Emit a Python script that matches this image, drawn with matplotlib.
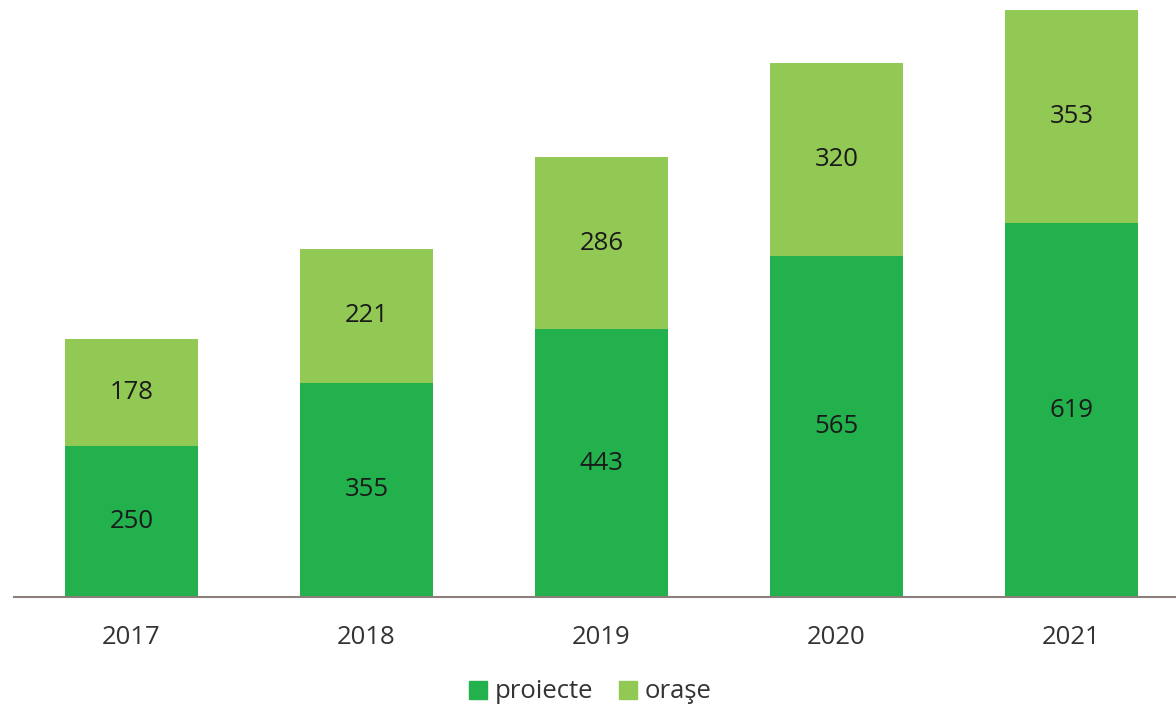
import numpy as np
import matplotlib.pyplot as plt
from matplotlib.patches import Patch

ani = ["2017", "2018", "2019", "2020", "2021"]
proiecte = [250, 355, 443, 565, 619]
orase = [178, 221, 286, 320, 353]

c_proiecte = "#22b14c"
c_orase = "#92c854"

plt.rcParams["font.family"] = ["Open Sans", "DejaVu Sans"]

fig = plt.figure(figsize=(11.76, 7.12), dpi=100)
ax = fig.add_axes([14 / 1176, 115 / 712, 1162 / 1176, 587 / 712])

x = np.arange(len(ani))
w = 0.566
ax.bar(x, proiecte, w, color=c_proiecte)
ax.bar(x, orase, w, bottom=proiecte, color=c_orase)

for i in range(len(ani)):
    ax.text(x[i], proiecte[i] / 2, str(proiecte[i]), ha="center", va="center",
            fontsize=18.5, color="#1a1a1a")
    ax.text(x[i], proiecte[i] + orase[i] / 2, str(orase[i]), ha="center", va="center",
            fontsize=18.5, color="#1a1a1a")

ax.set_xlim(-0.5, 4.445)
ax.set_ylim(0, 972)
ax.set_xticks(x)
ax.set_xticklabels(ani, fontsize=18.5, color="#333333")
ax.tick_params(axis="x", length=0, pad=20)
ax.set_yticks([])
for s in ["top", "right", "left"]:
    ax.spines[s].set_visible(False)
ax.spines["bottom"].set_color("#8a7f7a")
ax.spines["bottom"].set_linewidth(1.5)

handles = [Patch(color=c_proiecte, label="proiecte"), Patch(color=c_orase, label="oraşe")]
fig.legend(handles=handles, loc="center", bbox_to_anchor=(590 / 1176, 1 - 692 / 712),
           ncol=2, frameon=False, fontsize=18.5, handlelength=0.7, handleheight=0.7,
           handletextpad=0.3, columnspacing=1.0, labelcolor="#333333")

fig.savefig("out.png", dpi=100)
